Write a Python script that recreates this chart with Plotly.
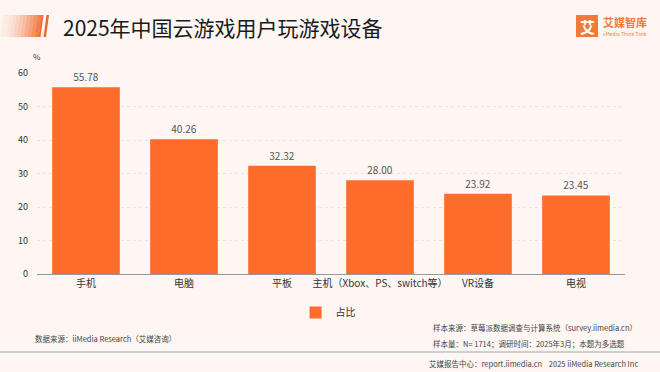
import plotly.graph_objects as go

categories = ["手机", "电脑", "平板", "主机（Xbox、PS、switch等）", "VR设备", "电视"]
values = [55.78, 40.26, 32.32, 28.00, 23.92, 23.45]
value_labels = ["55.78", "40.26", "32.32", "28.00", "23.92", "23.45"]
series_name = "占比"
y_ticks = [0, 10, 20, 30, 40, 50, 60]

FONT = "Noto Sans CJK SC, Noto Sans, sans-serif"
BAR = "#FE6C2B"

W, H = 660, 372
ML, MR, MT, MB = 37, 35, 73, 98

def px(x):
    return (x - ML) / (W - ML - MR)

def py(y):
    return (H - MB - y) / (H - MT - MB)

fig = go.Figure()
fig.add_trace(go.Bar(
    x=categories, y=values, name=series_name,
    marker=dict(color=BAR, line=dict(width=0)),
    text=value_labels, textposition="outside", cliponaxis=False,
    textfont=dict(size=10, color="#555555", family=FONT),
))

fig.update_layout(
    width=W, height=H,
    margin=dict(l=ML, r=MR, t=MT, b=MB),
    paper_bgcolor="#fdf6f3", plot_bgcolor="rgba(0,0,0,0)",
    bargap=0.31,
    showlegend=True,
    legend=dict(orientation="h", x=0.495, xanchor="center", y=py(298), yanchor="top",
                font=dict(size=10, family=FONT, color="#333333"),
                bgcolor="rgba(0,0,0,0)"),
    font=dict(family=FONT, color="#333333"),
    xaxis=dict(showgrid=False, showline=True, linecolor="#999999", linewidth=1,
               tickfont=dict(size=10, family=FONT, color="#333333"), ticks="",
               fixedrange=True),
    yaxis=dict(range=[0, 60], tickvals=y_ticks, showgrid=True, gridcolor="#ebe3e0",
               griddash="dot", zeroline=False, showline=False,
               tickfont=dict(size=9, family=FONT, color="#333333"), ticks="",
               ticklabelstandoff=8, fixedrange=True),
)

def note(text, x, y, size, color="#444444", xanchor="left", bold=False):
    fig.add_annotation(text=f"<b>{text}</b>" if bold else text, xref="paper", yref="paper",
                       x=px(x), y=py(y), xanchor=xanchor, yanchor="middle", showarrow=False,
                       font=dict(size=size, color=color, family=FONT))

# Header decoration: gradient band + slash
for i in range(12):
    a = 0.06 + 0.94 * (i / 11) ** 1.6
    xl = i * 3.5
    xr = xl + 3.8 if i < 11 else 40.5
    fig.add_shape(type="path", xref="paper", yref="paper",
                  path=f"M {px(xl)} {py(37)} L {px(xr)} {py(37)} L {px(xr+3)} {py(15)} L {px(xl+3)} {py(15)} Z",
                  fillcolor=f"rgba(240,110,50,{a:.2f})", line=dict(width=0))
fig.add_shape(type="path", xref="paper", yref="paper",
              path=f"M {px(43.5)} {py(37)} L {px(46)} {py(37)} L {px(49)} {py(15)} L {px(46.5)} {py(15)} Z",
              fillcolor="#ee6a30", line=dict(width=0))

note("2025年中国云游戏用户玩游戏设备", 61, 27, 21, color="#1a1a1a")

# Logo
fig.add_shape(type="rect", xref="paper", yref="paper",
              x0=px(576), x1=px(598), y0=py(37), y1=py(15),
              fillcolor="#f07a3c", line=dict(width=0), layer="above")
note("艾", 587, 26, 15, color="white", xanchor="center", bold=True)
note("艾媒智库", 601, 22, 11, color="#f07a3c", bold=True)
note("iiMedia Think Tank", 601, 33, 5, color="#f07a3c")

# % unit
note("%", 37, 57, 8, color="#333333", xanchor="center")

# Footer notes
note("数据来源：iiMedia Research（艾媒咨询）", 33, 338, 7.5)
note("样本来源：草莓派数据调查与计算系统（survey.iimedia.cn）", 431, 327, 7.5)
note("样本量：N= 1714；调研时间：2025年3月；本题为多选题", 431, 343, 7.5)
fig.add_shape(type="line", xref="paper", yref="paper", x0=px(0), x1=px(660), y0=py(352), y1=py(352),
              line=dict(color="#cfcfcf", width=2))
note("艾媒报告中心：report.iimedia.cn    2025 iiMedia Research Inc", 640, 363, 7.5, xanchor="right")

fig.write_html("out.html", config={"displayModeBar": False},
               post_script="document.body.style.margin='0';document.body.style.overflow='hidden';")
